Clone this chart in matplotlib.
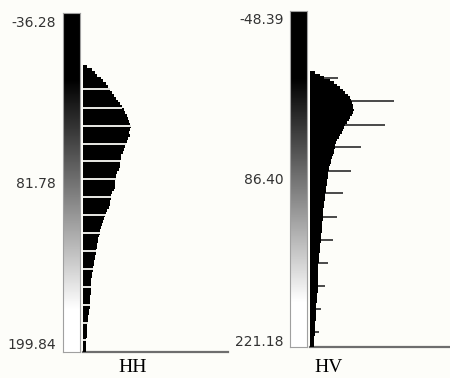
import matplotlib
matplotlib.use("Agg")
import matplotlib.pyplot as plt
import numpy as np

# ---- data ----
bg = '#fdfdf9'
bin_w = 2.0

# HH band
hh_range = (-36.28, 199.84)
hh_stretch = (10.0, 170.0)
hh_counts = [400, 900, 1200, 1400, 1800, 2000, 2300, 2500, 2700, 2900,
             3100, 3300, 3500, 3700, 3900, 4100, 4200, 4400, 4500, 4600,
             4700, 4800, 4700, 4600, 4700, 4500, 4400, 4300, 4200, 4100,
             4000, 3800, 3800, 3700, 3700, 3700, 3600, 3400, 3300, 3300,
             3200, 3200, 3200, 3100, 2900, 2800, 2800, 2700, 2700, 2600,
             2400, 2300, 2200, 2100, 2000, 1900, 1800, 1700, 1700, 1600,
             1500, 1500, 1400, 1400, 1300, 1300, 1200, 1200, 1100, 1100,
             1000, 1000, 900, 900, 800, 800, 800, 800, 800, 800,
             700, 700, 700, 700, 700, 600, 600, 500, 500, 500,
             400, 400, 400, 400, 400, 300, 300, 300, 300, 300]
hh_empty = [16.7, 29.9, 42.4, 55.0, 66.8, 79.3, 91.9, 104.4, 117.0,
            129.5, 142.0, 154.6, 167.1, 179.6, 191.5]

# HV band
hv_range = (-48.39, 221.18)
hv_stretch = (5.0, 185.0)
hv_counts = [500, 1000, 1400, 2000, 2400, 2700, 3000, 3300, 3500, 3800,
             4000, 4100, 4200, 4300, 4300, 4400, 4300, 4200, 4000, 3900,
             3700, 3500, 3400, 3300, 3200, 3000, 2900, 2700, 2600, 2500,
             2500, 2400, 2400, 2300, 2200, 2100, 2100, 2000, 1900, 1900,
             1800, 1800, 1800, 1700, 1700, 1700, 1600, 1600, 1600, 1500,
             1500, 1500, 1400, 1400, 1400, 1300, 1300, 1300, 1300, 1300,
             1200, 1200, 1200, 1200, 1200, 1100, 1100, 1100, 1100, 1000,
             1000, 1000, 1000, 900, 900, 900, 900, 800, 800, 800,
             800, 800, 800, 800, 800, 800, 800, 800, 800, 700,
             700, 700, 700, 600, 600, 600, 600, 600, 600, 600,
             500, 500, 500, 500, 500, 500, 400, 400, 400, 400, 400]
hv_spike_vals = [5.6, 23.6, 43.1, 60.5, 80.0, 97.9, 116.6, 135.3,
                 154.0, 172.2, 190.7, 209.4]
hv_spike_counts = [2800, 8400, 7500, 5100, 4100, 3300, 2700, 2300,
                   1800, 1500, 1100, 900]

labels = ['HH', 'HV']

W, H = 450, 378
fig = plt.figure(figsize=(W / 100, H / 100), dpi=100, facecolor=bg)


def fx(px):
    return px / W


def fy(py):
    return 1 - py / H


def draw_band(cb_x, hist_x, hist_x1, top, bot, vrange, stretch, counts,
              xmax, name, name_x, tick_x, tick_ys):
    lo, hi = vrange
    # colour ramp
    cax = fig.add_axes([fx(cb_x[0]), fy(bot), fx(cb_x[1] - cb_x[0]), (bot - top) / H])
    ramp = np.linspace(lo, hi, 600).reshape(-1, 1)
    cax.imshow(ramp, cmap='gray', vmin=stretch[0], vmax=stretch[1],
               aspect='auto', extent=(0, 1, hi, lo), interpolation='bilinear')
    cax.set_ylim(hi, lo)
    cax.set_xticks([])
    cax.set_yticks([])
    for s in cax.spines.values():
        s.set_color('#a0a0a0')
        s.set_linewidth(0.8)

    # histogram
    ax = fig.add_axes([fx(hist_x), fy(bot), fx(hist_x1 - hist_x), (bot - top) / H])
    ax.set_facecolor(bg)
    edges = np.arange(len(counts) + 1) * bin_w
    edges[-1] = min(edges[-1], hi)
    ax.stairs(counts, edges, orientation='horizontal', fill=True,
              color='black', linewidth=0, zorder=3)
    ax.set_ylim(hi, lo)
    ax.set_xlim(0, xmax)
    ax.set_xticks([])
    ax.set_yticks([])
    for k in ['top', 'right', 'left']:
        ax.spines[k].set_visible(False)
    ax.spines['bottom'].set_color('#6e6e6e')
    ax.spines['bottom'].set_linewidth(1.6)

    # value labels beside the ramp
    for val, py in zip([lo, (lo + hi) / 2, hi], tick_ys):
        fig.text(fx(tick_x), fy(py), f'{val:.2f}', ha='right', va='center',
                 fontsize=10, color='#333333', family='DejaVu Sans')
    fig.text(fx(name_x), fy(367), name, ha='center', va='center',
             fontsize=14, family='Liberation Serif', color='black')
    return ax


ax1 = draw_band((63, 80), 83, 228, 13, 352, hh_range, hh_stretch, hh_counts,
                14500, labels[0], 132.5, 56, (23, 184, 345))
# empty bins break the black body with thin light rows
gap_w = [hh_counts[int(v // bin_w)] for v in hh_empty]
ax1.barh(hh_empty, gap_w, height=1.0, color='#e2e2de', linewidth=0, zorder=4)

ax2 = draw_band((290, 307), 310, 450, 11, 347, hv_range, hv_stretch, hv_counts,
                14000, labels[1], 329, 284, (20, 180, 342))
ax2.barh(hv_spike_vals, hv_spike_counts, height=1.6, color='#4d4d4d',
         linewidth=0, zorder=2)

fig.savefig('out.png', dpi=100, facecolor=bg)
